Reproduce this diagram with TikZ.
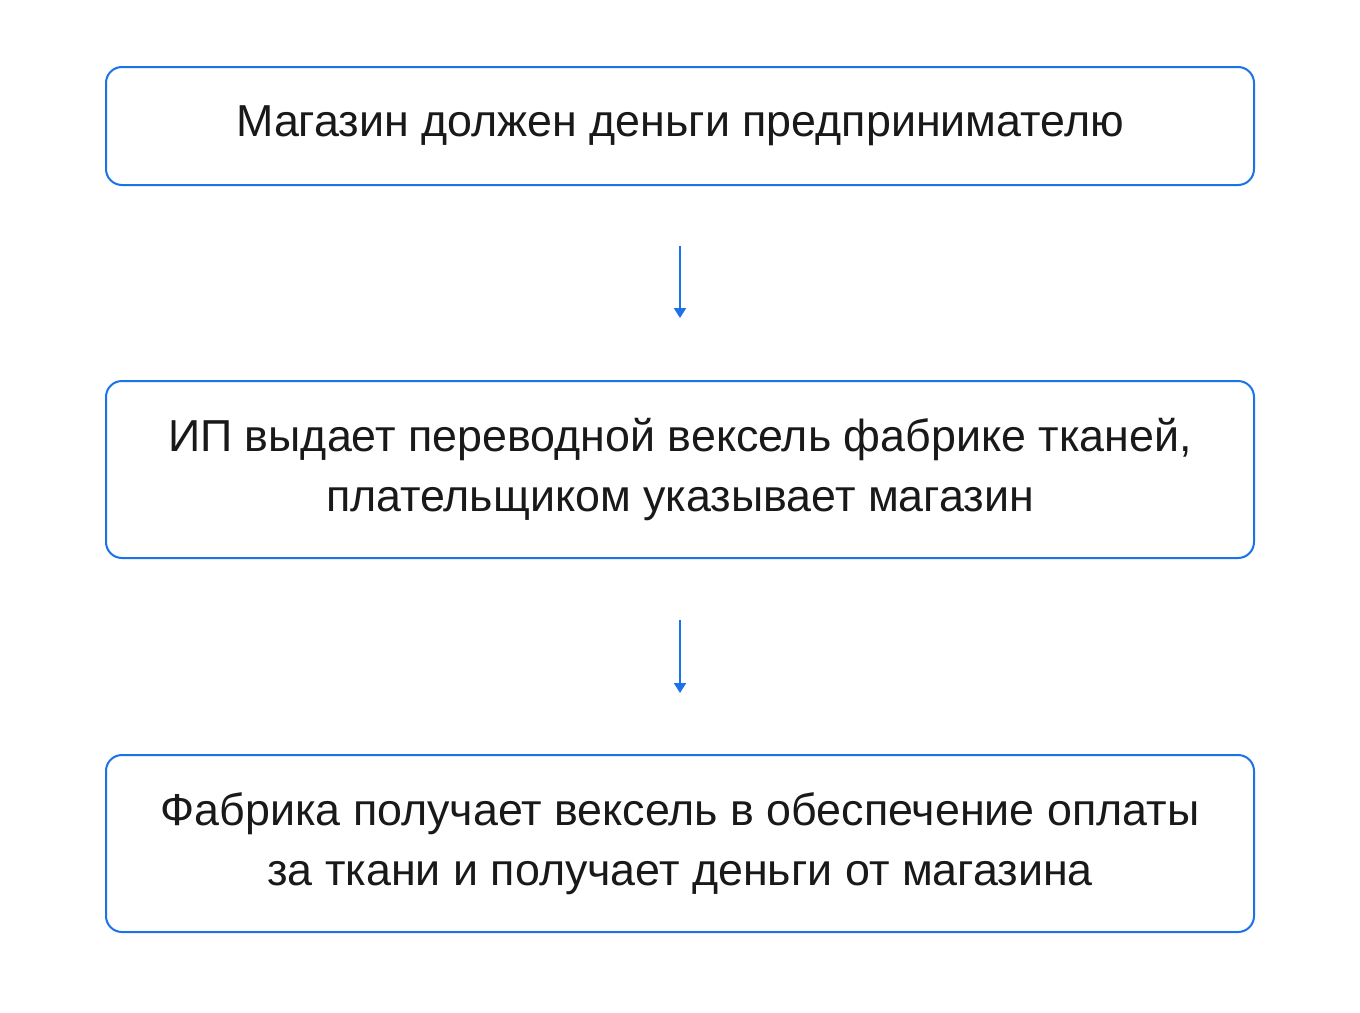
\documentclass[tikz,border=0pt]{standalone}
\usepackage{fontspec}
\setmainfont{Liberation Sans}
\usetikzlibrary{positioning,arrows.meta}
\definecolor{stepblue}{HTML}{1A73E8}
\begin{document}
\begin{tikzpicture}[x=0.5pt,y=-0.5pt]
\useasboundingbox (0,0) rectangle (1360,1012);
% styles
\tikzset{
  stepbox/.style={draw=stepblue, line width=1pt, rounded corners=8pt, align=center,
    minimum width=574pt, font=\fontsize{22.4}{30}\selectfont, text=black!90},
  flow/.style={draw=stepblue, line width=1pt, -{Triangle[width=6pt,length=5pt]}}
}

% Boxes
\node (debt)  [stepbox, minimum height=59pt]   at (680, 126.0) {Магазин должен деньги предпринимателю};
\node (bill)  [stepbox, minimum height=88.5pt] at (680, 469.5) {ИП выдает переводной вексель фабрике тканей,\\плательщиком указывает магазин};
\node (paid)  [stepbox, minimum height=88.5pt] at (680, 843.5) {Фабрика получает вексель в обеспечение оплаты\\за ткани и получает деньги от магазина};

% Connections
\draw [flow, shorten <=30pt, shorten >=31pt] (debt) -- (bill);
\draw [flow, shorten <=30.5pt, shorten >=30.5pt] (bill) -- (paid);

\end{tikzpicture}
\end{document}
